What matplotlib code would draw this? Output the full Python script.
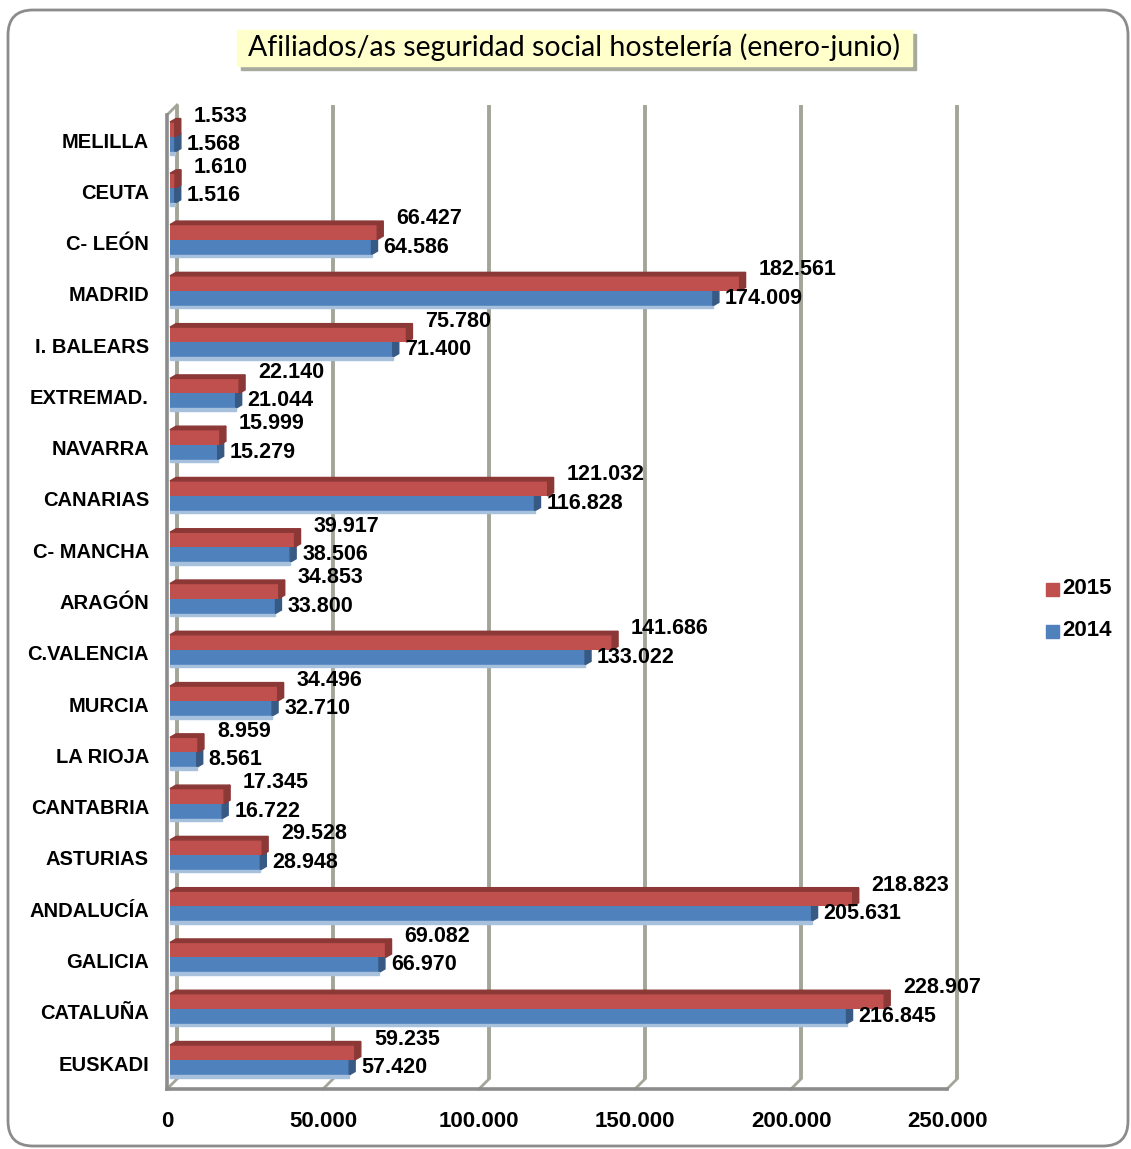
import matplotlib
matplotlib.use('Agg')
import matplotlib.pyplot as plt
from matplotlib.patches import Polygon, Rectangle, FancyBboxPatch

# ------------------------------------------------------------------ #
# Data (bottom to top, as drawn)                                       #
# ------------------------------------------------------------------ #
regions = ['EUSKADI', 'CATALUÑA', 'GALICIA', 'ANDALUCÍA', 'ASTURIAS', 'CANTABRIA',
           'LA RIOJA', 'MURCIA', 'C.VALENCIA', 'ARAGÓN', 'C- MANCHA', 'CANARIAS',
           'NAVARRA', 'EXTREMAD.', 'I. BALEARS', 'MADRID', 'C- LEÓN', 'CEUTA', 'MELILLA']
afil_2015 = [59235, 228907, 69082, 218823, 29528, 17345, 8959, 34496, 141686, 34853,
             39917, 121032, 15999, 22140, 75780, 182561, 66427, 1610, 1533]
afil_2014 = [57420, 216845, 66970, 205631, 28948, 16722, 8561, 32710, 133022, 33800,
             38506, 116828, 15279, 21044, 71400, 174009, 64586, 1516, 1568]
xticks = [0, 50000, 100000, 150000, 200000, 250000]
series_names = ['2015', '2014']

RED, RED_DARK = '#C0504D', '#8C3836'
BLUE, BLUE_DARK, BLUE_LIGHT = '#4F81BD', '#375A85', '#A7C0DC'
WALL = '#8C8C8C'
GRID = '#A2A698'

W, H = 1131, 1149
fig = plt.figure(figsize=(W / 100, H / 100), dpi=100)
ax = fig.add_axes([167 / W, 1 - 1089 / H, 780 / W, (1089 - 115) / H])

XMAX = 250000
YLO, YHI = -0.507, 18.488
ax.set_xlim(0, XMAX)
ax.set_ylim(YLO, YHI)

px = XMAX / 780.0              # data units per pixel (x)
py = (YHI - YLO) / 974.0       # data units per pixel (y)


def fmt(v):
    return f"{v:,}".replace(',', '.')


# back wall gridlines and floor diagonals (3D look)
dx, dy = 10 * px, 10 * py
for v in xticks:
    ax.plot([v + dx, v + dx], [YLO + dy, YHI + dy], color=GRID, lw=2.8,
            clip_on=False, zorder=1, solid_capstyle='butt')
    ax.plot([v, v + dx], [YLO, YLO + dy], color=GRID, lw=2.0, clip_on=False, zorder=1)
ax.plot([0, dx], [YHI, YHI + dy], color=GRID, lw=2.0, clip_on=False, zorder=1)

# bars
h = 15 * py
off = 3 * py
bx = 3 * px          # bars sit a bit behind the front edge
sd, se = 6 * px, 3.5 * py
ys = list(range(len(regions)))

y_red = [y + off + h / 2 for y in ys]
y_blue = [y + off - h / 2 for y in ys]

ax.barh(y_blue, afil_2014, height=h, left=bx, color=BLUE, zorder=3)
ax.barh(y_red, afil_2015, height=h, left=bx, color=RED, zorder=4)

for yb, v in zip(y_blue, afil_2014):
    e = bx + v
    ax.add_patch(Polygon([(e, yb - h / 2), (e, yb + h / 2), (e + sd, yb + h / 2 + se),
                          (e + sd, yb - h / 2 + se)], closed=True, color=BLUE_DARK, zorder=3))
    ax.add_patch(Rectangle((bx, yb - h / 2 - 2.5 * py), v, 2.5 * py, color=BLUE_LIGHT, zorder=3))
    ax.annotate(fmt(v), (e + sd, yb), xytext=(6, 0), textcoords='offset pixels',
                ha='left', va='center', fontsize=15.5, fontweight='bold',
                family='Liberation Sans', zorder=6)

for yr, v in zip(y_red, afil_2015):
    e = bx + v
    ax.add_patch(Polygon([(e, yr - h / 2), (e, yr + h / 2), (e + sd, yr + h / 2 + se),
                          (e + sd, yr - h / 2 + se)], closed=True, color=RED_DARK, zorder=4))
    ax.add_patch(Polygon([(bx, yr + h / 2), (e, yr + h / 2), (e + sd, yr + h / 2 + se),
                          (bx + sd, yr + h / 2 + se)], closed=True, color=RED_DARK, zorder=4))
    ax.annotate(fmt(v), (e + sd, yr + h / 2), xytext=(13, 6), textcoords='offset pixels',
                ha='left', va='center', fontsize=15.5, fontweight='bold',
                family='Liberation Sans', zorder=6)

# axes styling
for s in ['top', 'right']:
    ax.spines[s].set_visible(False)
for s in ['left', 'bottom']:
    ax.spines[s].set_color(WALL)
    ax.spines[s].set_linewidth(2.6)
    ax.spines[s].set_zorder(5)
ax.set_yticks(ys)
ax.set_yticklabels(regions, fontsize=14.5, fontweight='bold', family='Liberation Sans')
ax.set_xticks(xticks)
ax.set_xticklabels([fmt(v) for v in xticks], fontsize=16, fontweight='bold',
                   family='Liberation Sans')
ax.tick_params(axis='y', length=0, pad=13)
ax.tick_params(axis='x', length=0, pad=16)
ax.set_facecolor('none')

# title with yellow box and shadow
T = fig.dpi_scale_trans
fig.add_artist(Rectangle((241 / 100, (H - 70) / 100), 675 / 100, 36 / 100,
                         transform=T, color='#A7AB9D', zorder=1))
fig.add_artist(Rectangle((237 / 100, (H - 66) / 100), 675 / 100, 36 / 100,
                         transform=T, color='#FFFFCC', zorder=2))
fig.text(574 / W, 1 - 47 / H, 'Afiliados/as seguridad social hostelería (enero-junio)',
         ha='center', va='center', fontsize=20.5, family='Lato', zorder=3)

# legend
leg = [(series_names[0], RED, 589), (series_names[1], BLUE, 631)]
for name, col, yc in leg:
    fig.add_artist(Rectangle((1046 / 100, (H - yc - 6.5) / 100), 13 / 100, 13 / 100,
                             transform=T, color=col))
    fig.text(1062 / W, 1 - yc / H, name, ha='left', va='center', fontsize=16,
             fontweight='bold', family='Liberation Sans')

# outer rounded frame
fig.add_artist(FancyBboxPatch((8 / 100, (H - 1146) / 100), 1120 / 100, 1136 / 100,
                              boxstyle='round,pad=0,rounding_size=0.25', transform=T,
                              facecolor='none', edgecolor=WALL, lw=2))

fig.savefig('out.png', dpi=100)
